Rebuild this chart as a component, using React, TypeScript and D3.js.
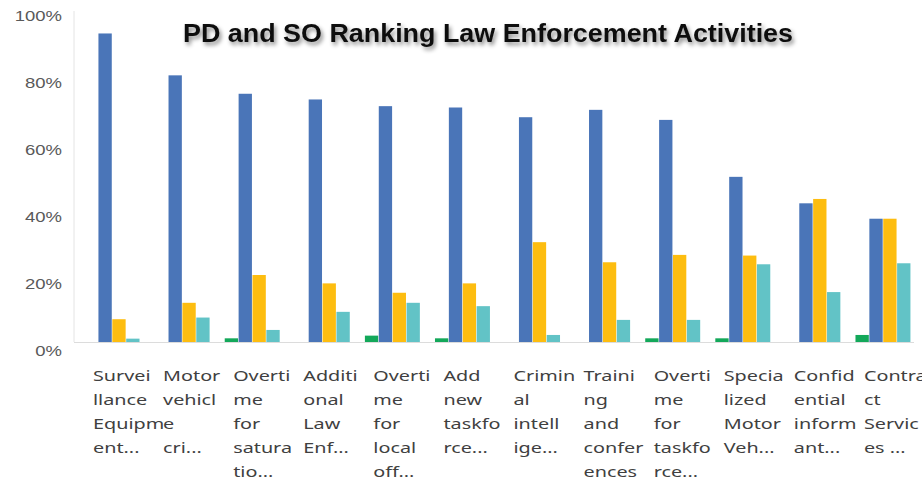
import { useEffect, useRef } from "react";
import * as d3 from "d3";

const W = 922;
const H = 480;
// the source picture is stretched horizontally; text is widened to match
const STRETCH = 1.32;

// category labels, wrapped exactly as in the source chart
const CATEGORY_LINES: string[][] = [
  ["Survei", "llance", "Equipm", "ent..."],
  ["Motor", "vehicl", "e", "cri..."],
  ["Overti", "me", "for", "satura", "tio..."],
  ["Additi", "onal", "Law", "Enf..."],
  ["Overti", "me", "for", "local", "off..."],
  ["Add", "new", "taskfo", "rce..."],
  ["Crimin", "al", "intell", "ige..."],
  ["Traini", "ng", "and", "confer", "ences"],
  ["Overti", "me", "for", "taskfo", "rce..."],
  ["Specia", "lized", "Motor", "Veh..."],
  ["Confid", "ential", "inform", "ant..."],
  ["Contra", "ct", "Servic", "es ..."],
];

const GREEN = [0, 0, 1.1, 0, 1.9, 1.1, 0, 0, 1.1, 1.1, 0, 2.1];
const BLUE = [92.1, 79.6, 74.1, 72.4, 70.4, 70.0, 67.1, 69.3, 66.3, 49.3, 41.4, 36.8];
const YELLOW = [6.8, 11.7, 20.0, 17.5, 14.7, 17.5, 29.8, 23.8, 26.0, 25.8, 42.7, 36.8];
const TEAL = [1.0, 7.3, 3.6, 9.0, 11.7, 10.7, 2.1, 6.6, 6.6, 23.2, 14.9, 23.5];

const Y_TICKS = [0, 20, 40, 60, 80, 100];

const SERIES = [
  { key: "green", values: GREEN, color: "#13a85a" },
  { key: "blue", values: BLUE, color: "#4a75b8" },
  { key: "yellow", values: YELLOW, color: "#fdbd10" },
  { key: "teal", values: TEAL, color: "#62c3c6" },
];

const MARGIN = { top: 7, right: 4, bottom: 138, left: 77 };

export default function App() {
  const ref = useRef<SVGSVGElement>(null);

  useEffect(() => {
    const svg = d3.select(ref.current);
    svg.selectAll("*").remove();

    const x0 = d3
      .scaleBand<number>()
      .domain(d3.range(CATEGORY_LINES.length))
      .range([MARGIN.left, W - MARGIN.right])
      .paddingInner(0.2)
      .paddingOuter(0.1);
    const x1 = d3
      .scaleBand<string>()
      .domain(SERIES.map((s) => s.key))
      .range([0, x0.bandwidth()])
      .padding(0.04);
    const y = d3
      .scaleLinear()
      .domain([0, 100])
      .range([H - MARGIN.bottom, MARGIN.top]);

    const defs = svg.append("defs");
    defs
      .append("filter")
      .attr("id", "shadow")
      .attr("x", "-10%")
      .attr("y", "-40%")
      .attr("width", "120%")
      .attr("height", "180%")
      .append("feDropShadow")
      .attr("dx", 2)
      .attr("dy", 3)
      .attr("stdDeviation", 2.2)
      .attr("flood-color", "#000")
      .attr("flood-opacity", 0.45);

    // axis lines
    svg
      .append("line")
      .attr("x1", MARGIN.left - 3)
      .attr("x2", MARGIN.left - 3)
      .attr("y1", y(100) + 4)
      .attr("y2", y(0))
      .attr("stroke", "#e4e4e4");
    svg
      .append("line")
      .attr("x1", MARGIN.left - 3)
      .attr("x2", W - 8)
      .attr("y1", y(0) + 0.5)
      .attr("y2", y(0) + 0.5)
      .attr("stroke", "#dcdcdc");

    // y tick labels
    svg
      .append("g")
      .selectAll("text")
      .data(Y_TICKS)
      .join("text")
      .attr("transform", (d) => `translate(62,${y(d) + 13.5}) scale(${STRETCH},1)`)
      .attr("text-anchor", "end")
      .attr("font-family", "Liberation Sans, Arial, sans-serif")
      .attr("font-size", 14)
      .attr("fill", "#595959")
      .text((d) => `${d}%`);

    // bars
    const groups = svg
      .append("g")
      .selectAll("g")
      .data(CATEGORY_LINES.map((_, i) => i))
      .join("g")
      .attr("transform", (i) => `translate(${x0(i)},0)`);

    groups
      .selectAll("rect")
      .data((i) => SERIES.map((s) => ({ key: s.key, color: s.color, v: s.values[i] })))
      .join("rect")
      .attr("x", (d) => x1(d.key)!)
      .attr("width", x1.bandwidth())
      .attr("y", (d) => y(d.v))
      .attr("height", (d) => y(0) - y(d.v))
      .attr("fill", (d) => d.color);

    // category labels
    const labels = svg
      .append("g")
      .selectAll("text")
      .data(CATEGORY_LINES)
      .join("text")
      .attr("transform", (_, i) => `translate(${x0(i)! + 9},381) scale(${STRETCH},1)`)
      .attr("font-family", "Noto Sans, Open Sans, sans-serif")
      .attr("font-size", 15)
      .attr("fill", "#404040");
    labels
      .selectAll("tspan")
      .data((d) => d)
      .join("tspan")
      .attr("x", 0)
      .attr("y", (_, j) => j * 24)
      .text((d) => d);

    // title
    svg
      .append("text")
      .attr("x", 488)
      .attr("y", 42)
      .attr("text-anchor", "middle")
      .attr("font-family", "Liberation Sans, Arial, sans-serif")
      .attr("font-weight", "bold")
      .attr("font-size", 25)
      .attr("textLength", 610)
      .attr("lengthAdjust", "spacingAndGlyphs")
      .attr("fill", "#111")
      .attr("filter", "url(#shadow)")
      .text("PD and SO Ranking Law Enforcement Activities");
  }, []);

  return (
    <svg
      ref={ref}
      width={W}
      height={H}
      style={{ position: "absolute", left: 0, top: 0, background: "#fff" }}
    />
  );
}
